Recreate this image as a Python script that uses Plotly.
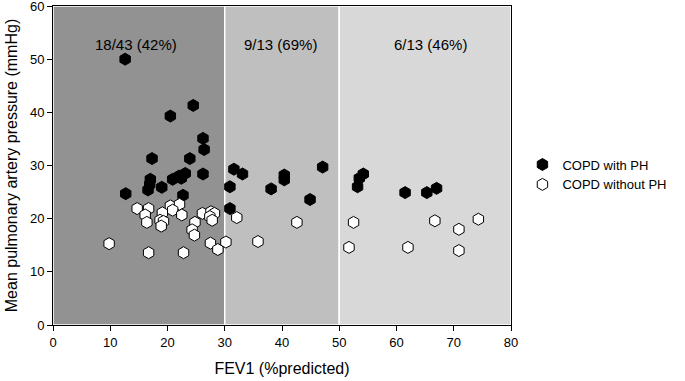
import plotly.graph_objects as go

# COPD with PH (filled)
ph_fev1 = [12.6, 24.5, 20.5, 26.2, 26.4, 17.3, 23.9, 26.2, 23.1, 22.4, 20.9, 17.0, 16.9, 16.6, 19.0, 12.7, 22.7, 22.0,
           31.6, 33.1, 30.9, 30.9, 38.1, 40.4, 40.4, 44.9, 47.1,
           54.2, 53.5, 53.2, 61.5, 65.3, 67.0]
ph_mpap = [50.0, 41.3, 39.3, 35.1, 33.0, 31.3, 31.3, 28.4, 28.5, 27.6, 27.4, 27.4, 26.4, 25.4, 25.9, 24.7, 24.4, 28.0,
           29.3, 28.4, 26.0, 21.9, 25.6, 28.2, 27.3, 23.6, 29.7,
           28.4, 27.6, 26.0, 24.9, 24.9, 25.7]

# COPD without PH (open)
noph_fev1 = [14.7, 16.7, 16.1, 16.4, 20.5, 22.1, 20.9, 19.1, 22.5, 18.7, 19.3, 18.9, 24.8, 26.1, 27.6, 28.2, 27.4,
             27.8, 24.3, 24.7, 9.8, 27.5, 28.8, 16.7, 22.8,
             30.2, 32.1, 35.8, 42.6,
             52.5, 51.7, 62.0, 66.7, 70.9, 70.9, 74.3]
noph_mpap = [21.9, 21.9, 20.7, 19.3, 22.4, 22.7, 21.6, 21.1, 20.7, 19.7, 19.5, 18.6, 19.3, 21.0, 21.3, 21.0, 20.4,
             19.7, 17.9, 16.9, 15.3, 15.4, 14.2, 13.6, 13.6,
             15.6, 20.2, 15.7, 19.3,
             19.3, 14.6, 14.6, 19.6, 18.0, 14.0, 19.9]

# FEV1 bands
band_edges = [0, 30, 50, 80]
band_colors = ["#929292", "#bfbfbf", "#d8d8d8"]
band_labels = ["18/43 (42%)", "9/13 (69%)", "6/13 (46%)"]
band_label_x = [14.5, 39.7, 65.9]
band_label_y = 52.8

x_ticks = [0, 10, 20, 30, 40, 50, 60, 70, 80]
y_ticks = [0, 10, 20, 30, 40, 50, 60]

font_family = "Liberation Sans, Arial, sans-serif"

fig = go.Figure()

fig.add_trace(go.Scatter(
    x=ph_fev1, y=ph_mpap, mode="markers", name="COPD with PH",
    marker=dict(symbol="hexagon", size=12, color="black", line=dict(color="black", width=1)),
))
fig.add_trace(go.Scatter(
    x=noph_fev1, y=noph_mpap, mode="markers", name="COPD without PH",
    marker=dict(symbol="hexagon", size=12, color="white", line=dict(color="black", width=1)),
))

for i in range(len(band_colors)):
    fig.add_shape(type="rect", xref="x", yref="y",
                  x0=band_edges[i], x1=band_edges[i + 1], y0=0, y1=60,
                  fillcolor=band_colors[i], line=dict(color="white", width=1.5), layer="below")
    fig.add_annotation(x=band_label_x[i], y=band_label_y, xref="x", yref="y",
                       text=band_labels[i], showarrow=False,
                       font=dict(size=15, color="black", family=font_family))

fig.update_layout(
    width=685, height=381,
    margin=dict(l=53, r=174, t=6, b=56, autoexpand=False),
    paper_bgcolor="white", plot_bgcolor="white",
    font=dict(family=font_family, color="black", size=13),
    showlegend=True,
    legend=dict(x=1.025, y=0.55, xanchor="left", yanchor="top",
                font=dict(size=13, family=font_family), bgcolor="rgba(0,0,0,0)",
                tracegroupgap=0),
)
fig.update_xaxes(range=[0, 80], tickvals=x_ticks, showgrid=False, zeroline=False, automargin=False,
                 showline=True, linecolor="black", linewidth=1, mirror=True,
                 ticks="outside", ticklen=5, tickcolor="black", ticklabeloverflow="allow",
                 tickfont=dict(size=13),
                 title=dict(text="FEV1 (%predicted)", font=dict(size=16), standoff=14))
fig.update_yaxes(range=[0, 60], tickvals=y_ticks, showgrid=False, zeroline=False, automargin=False,
                 showline=True, linecolor="black", linewidth=1, mirror=True,
                 ticks="outside", ticklen=5, tickcolor="black", ticklabeloverflow="allow",
                 tickfont=dict(size=13),
                 title=dict(text="Mean pulmonary artery pressure (mmHg)", font=dict(size=16), standoff=8))

fig.write_html("out.html", config={"displayModeBar": False},
               post_script="document.body.style.margin='0';")
